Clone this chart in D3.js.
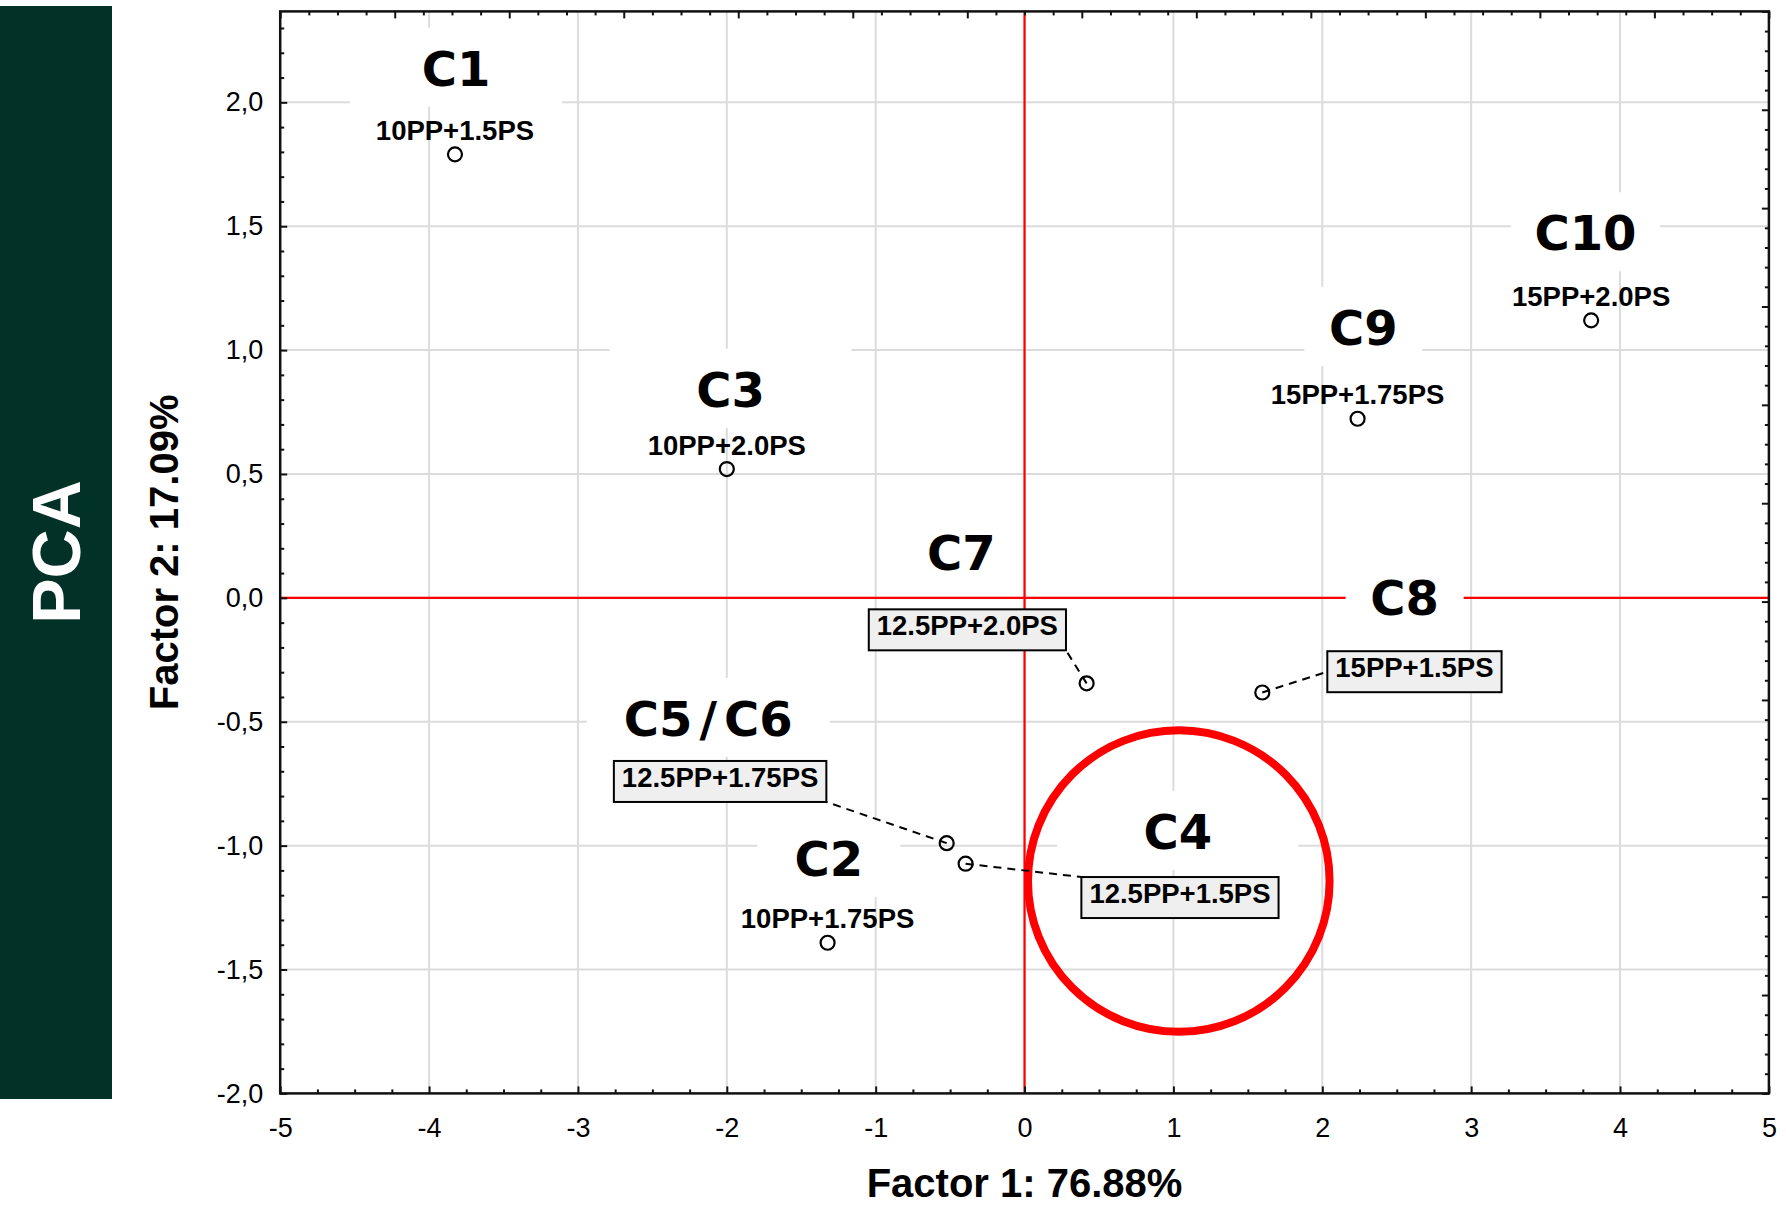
<!DOCTYPE html>
<html>
<head>
<meta charset="utf-8">
<script src="https://cdn.jsdelivr.net/npm/d3@7"></script>
<style>
  html, body { margin: 0; padding: 0; background: #ffffff; }
  svg { display: block; }
</style>
</head>
<body>
<svg id="chart" width="1786" height="1211"></svg>
<script>
// ---- data: PCA scores of the formulations ----
const samples = ["C1", "C2", "C3", "C4", "C5/C6", "C7", "C8", "C9", "C10"];
const formulations = ["10PP+1.5PS", "10PP+1.75PS", "10PP+2.0PS", "12.5PP+1.5PS", "12.5PP+1.75PS",
                      "12.5PP+2.0PS", "15PP+1.5PS", "15PP+1.75PS", "15PP+2.0PS"];
const factor1 = [-3.826, -1.323, -2.0, -0.396, -0.523, 0.417, 1.597, 2.237, 3.806];
const factor2 = [1.790, -1.392, 0.520, -1.073, -0.990, -0.345, -0.382, 0.723, 1.120];

const xTickValues = [-5, -4, -3, -2, -1, 0, 1, 2, 3, 4, 5];
const yTickValues = [-2.0, -1.5, -1.0, -0.5, 0.0, 0.5, 1.0, 1.5, 2.0];

const xTitle = "Factor 1: 76.88%";
const yTitle = "Factor 2: 17.09%";
const panelTitle = "PCA";

// ---- layout ----
const W = 1786, H = 1211;
const plot = { left: 280.2, right: 1768.9, top: 11.4, bottom: 1093.4 };
const yTop = 2.367;

// sample codes: anchor (data units, text centre / backing bottom) and width of white backing (px)
const tagLayout = {
  "C1":    { x: -3.819, y:  2.059,  w: 212 },
  "C2":    { x: -1.314, y: -1.130,  w: 143 },
  "C3":    { x: -1.975, y:  0.763,  w: 242 },
  "C4":    { x:  1.030, y: -1.022,  w: 241 },
  "C5/C6": { x: -2.125, y: -0.565,  w: 243 },
  "C7":    { x: -0.424, y:  0.105,  w: 110 },
  "C8":    { x:  2.553, y: -0.0767, w: 118 },
  "C9":    { x:  2.276, y:  1.0125, w: 118 },
  "C10":   { x:  3.768, y:  1.395,  w: 149 }
};

// formulations shown in a callout box (box centre in data units, leader attach point)
const calloutLayout = {
  "C4":    { x:  1.044, y: -1.2095, anchor: "tl" },
  "C5/C6": { x: -2.045, y: -0.741,  anchor: "br" },
  "C7":    { x: -0.384, y: -0.129,  anchor: "br" },
  "C8":    { x:  2.619, y: -0.298,  anchor: "l" }
};

// highlighted region around C4 (centre in data units, radius in Factor 1 units)
const highlight = { x: 1.036, y: -1.143, r: 1.013 };

const SANS = "'Liberation Sans', Arial, Helvetica, sans-serif";
const TAGFONT = "'DejaVu Sans', Verdana, sans-serif";

const x = d3.scaleLinear().domain([-5, 5]).range([plot.left, plot.right]);
const y = d3.scaleLinear().domain([-2, yTop]).range([plot.bottom, plot.top]);
// secondary (mirror) axes carry their own tick spacing
const xTopScale = d3.scaleLinear().domain([0, 13]).range([plot.left, plot.right]);
const yRightScale = d3.scaleLinear().domain([0, 11]).range([plot.bottom, plot.top]);

const svg = d3.select("#chart");

svg.append("rect").attr("x", 0).attr("y", 0).attr("width", W).attr("height", H).attr("fill", "#ffffff");

// ---- side panel ----
svg.append("rect")
  .attr("x", 0).attr("y", 6).attr("width", 112).attr("height", 1093)
  .attr("fill", "#023127");
svg.append("text")
  .attr("transform", "translate(56,552) rotate(-90)")
  .attr("y", 24)
  .attr("text-anchor", "middle")
  .attr("font-family", SANS).attr("font-weight", "bold").attr("font-size", 68)
  .attr("fill", "#ffffff")
  .text(panelTitle);

// ---- grid ----
const grid = svg.append("g").attr("stroke", "#dcdcdc").attr("stroke-width", 2);
grid.selectAll(".gx").data(xTickValues.filter(v => v > -5 && v < 5)).join("line")
  .attr("x1", d => x(d)).attr("x2", d => x(d))
  .attr("y1", plot.top).attr("y2", plot.bottom);
grid.selectAll(".gy").data(yTickValues.filter(v => v > -2)).join("line")
  .attr("x1", plot.left).attr("x2", plot.right)
  .attr("y1", d => y(d)).attr("y2", d => y(d));

// ---- origin lines ----
const origin = svg.append("g").attr("stroke", "#ff0000").attr("stroke-width", 2.2);
origin.append("line").attr("x1", x(0)).attr("x2", x(0)).attr("y1", plot.top).attr("y2", plot.bottom);
origin.append("line").attr("x1", plot.left).attr("x2", plot.right).attr("y1", y(0)).attr("y2", y(0));

// ---- sample codes with white backing ----
const tags = svg.append("g");
samples.forEach(s => {
  const t = tagLayout[s];
  const cx = x(t.x), by = y(t.y);
  tags.append("rect")
    .attr("x", cx - t.w / 2).attr("y", by - 60)
    .attr("width", t.w).attr("height", 79)
    .attr("fill", "#ffffff");
  const txt = tags.append("text")
    .attr("x", cx).attr("y", by - 2)
    .attr("text-anchor", "middle")
    .attr("font-family", TAGFONT).attr("font-weight", "bold").attr("font-size", 48)
    .attr("fill", "#000000");
  const parts = s.split("/");
  parts.forEach((p, i) => {
    if (i > 0) txt.append("tspan").attr("dx", 7).text("/");
    txt.append("tspan").attr("dx", i > 0 ? 7 : 0).text(p);
  });
});

// ---- highlight ring ----
svg.append("circle")
  .attr("cx", x(highlight.x)).attr("cy", y(highlight.y))
  .attr("r", x(highlight.x + highlight.r) - x(highlight.x))
  .attr("fill", "none").attr("stroke", "#ff0000").attr("stroke-width", 8);

// ---- leaders, points, labels ----
const leaders = svg.append("g").attr("stroke", "#000").attr("stroke-width", 2).attr("stroke-dasharray", "8,6");
const pts = svg.append("g");
const plainLabels = svg.append("g");
const boxes = svg.append("g");

samples.forEach((s, i) => {
  const px = x(factor1[i]), py = y(factor2[i]);
  const cl = calloutLayout[s];
  if (!cl) {
    plainLabels.append("text")
      .attr("x", px).attr("y", py - 14.5)
      .attr("text-anchor", "middle")
      .attr("font-family", SANS).attr("font-weight", "bold").attr("font-size", 27.5)
      .attr("fill", "#000")
      .text(formulations[i]);
  } else {
    const bx = x(cl.x), byc = y(cl.y);
    const g = boxes.append("g");
    const rect = g.append("rect");
    const txt = g.append("text")
      .attr("x", bx).attr("y", byc + 5.5)
      .attr("text-anchor", "middle")
      .attr("font-family", SANS).attr("font-weight", "bold").attr("font-size", 27.5)
      .attr("fill", "#000")
      .text(formulations[i]);
    const tw = txt.node().getComputedTextLength();
    const bw = tw + 16, bh = 41;
    const x0 = bx - bw / 2, y0 = byc - bh / 2;
    rect.attr("x", x0).attr("y", y0).attr("width", bw).attr("height", bh)
      .attr("fill", "#efefef").attr("stroke", "#000").attr("stroke-width", 2);
    let ax, ay;
    if (cl.anchor === "tl") { ax = x0; ay = y0; }
    else if (cl.anchor === "br") { ax = x0 + bw; ay = y0 + bh; }
    else { ax = x0; ay = byc; }
    leaders.append("line").attr("x1", px).attr("y1", py).attr("x2", ax).attr("y2", ay);
  }
  pts.append("circle")
    .attr("cx", px).attr("cy", py).attr("r", 7)
    .attr("fill", "none").attr("stroke", "#000").attr("stroke-width", 2.2);
});

// ---- frame ----
svg.append("rect")
  .attr("x", plot.left).attr("y", plot.top)
  .attr("width", plot.right - plot.left).attr("height", plot.bottom - plot.top)
  .attr("fill", "none").attr("stroke", "#111").attr("stroke-width", 2.5);

// ---- axes ----
const fmtX = d => String(d);
const fmtY = d => d.toFixed(1).replace(".", ",");
const isInt = v => Math.abs(v - Math.round(v)) < 1e-9;

function styleAxis(g) {
  g.select(".domain").remove();
  g.selectAll(".tick line").attr("stroke", "#111").attr("stroke-width", 2);
  g.selectAll("text").attr("font-family", SANS).attr("font-size", 27).attr("fill", "#000");
}

// bottom
svg.append("g").attr("transform", `translate(0,${plot.bottom})`)
  .call(d3.axisBottom(x).tickValues(xTickValues).tickFormat(fmtX).tickSizeInner(-7).tickSizeOuter(0).tickPadding(24.5))
  .call(styleAxis);
svg.append("g").attr("transform", `translate(0,${plot.bottom})`)
  .call(d3.axisBottom(x).tickValues(d3.range(-5, 5.0001, 0.25).filter(v => !isInt(v))).tickFormat("").tickSizeInner(-4).tickSizeOuter(0))
  .call(styleAxis);

// left
svg.append("g").attr("transform", `translate(${plot.left},0)`)
  .call(d3.axisLeft(y).tickValues(yTickValues).tickFormat(fmtY).tickSizeInner(-7).tickSizeOuter(0).tickPadding(17))
  .call(styleAxis);
svg.append("g").attr("transform", `translate(${plot.left},0)`)
  .call(d3.axisLeft(y).tickValues(d3.range(-20, 24, 1).map(v => v / 10).filter(v => v <= yTop && Math.abs(v * 2 - Math.round(v * 2)) > 1e-9)).tickFormat("").tickSizeInner(-4).tickSizeOuter(0))
  .call(styleAxis);

// top (mirror)
svg.append("g").attr("transform", `translate(0,${plot.top})`)
  .call(d3.axisTop(xTopScale).tickValues(d3.range(0, 14)).tickFormat("").tickSizeInner(-7).tickSizeOuter(0))
  .call(styleAxis);
svg.append("g").attr("transform", `translate(0,${plot.top})`)
  .call(d3.axisTop(xTopScale).tickValues(d3.range(0, 13.0001, 0.25).filter(v => !isInt(v))).tickFormat("").tickSizeInner(-4).tickSizeOuter(0))
  .call(styleAxis);

// right (mirror)
svg.append("g").attr("transform", `translate(${plot.right},0)`)
  .call(d3.axisRight(yRightScale).tickValues(d3.range(0, 12)).tickFormat("").tickSizeInner(-7).tickSizeOuter(0))
  .call(styleAxis);
svg.append("g").attr("transform", `translate(${plot.right},0)`)
  .call(d3.axisRight(yRightScale).tickValues(d3.range(0, 56).map(v => v / 5).filter(v => !isInt(v))).tickFormat("").tickSizeInner(-4).tickSizeOuter(0))
  .call(styleAxis);

// ---- axis titles ----
svg.append("text")
  .attr("x", (plot.left + plot.right) / 2).attr("y", 1197)
  .attr("text-anchor", "middle")
  .attr("font-family", SANS).attr("font-weight", "bold").attr("font-size", 40)
  .attr("fill", "#000")
  .text(xTitle);
svg.append("text")
  .attr("transform", `translate(164,${(plot.top + plot.bottom) / 2}) rotate(-90)`)
  .attr("y", 14.3)
  .attr("text-anchor", "middle")
  .attr("font-family", SANS).attr("font-weight", "bold").attr("font-size", 40)
  .attr("fill", "#000")
  .text(yTitle);
</script>
</body>
</html>
